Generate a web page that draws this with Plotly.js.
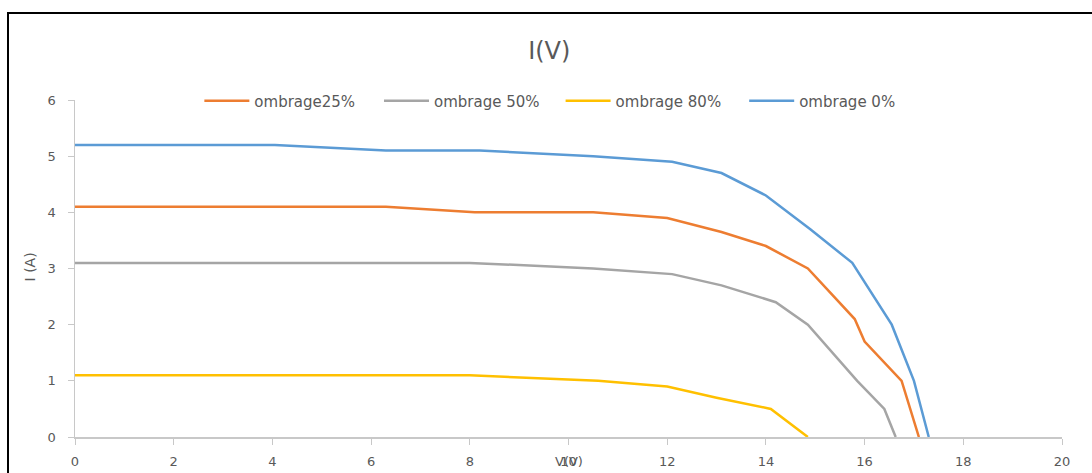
<!DOCTYPE html>
<html>
<head>
<meta charset="utf-8">
<script src="https://cdn.plot.ly/plotly-3.0.1.min.js"></script>
<style>
  html, body { margin: 0; padding: 0; background: #fff; }
  #wrap { position: relative; width: 1092px; height: 473px; overflow: hidden; }
  #chart { width: 1092px; height: 473px; }
  #frame { position: absolute; left: 7px; top: 12px; width: 1200px; height: 500px;
           border: 2px solid #000; pointer-events: none; }
</style>
</head>
<body>
<div id="wrap"><div id="chart"></div><div id="frame"></div></div>
<script>
// Series: voltage (V) and current (A)
const v25 = [0, 6.3, 8.1, 10.5, 12.0, 13.1, 14.0, 14.85, 15.8, 16.0, 16.75, 17.1];
const i25 = [4.1, 4.1, 4.0, 4.0, 3.9, 3.65, 3.4, 3.0, 2.1, 1.7, 1.0, 0];

const v50 = [0, 8.0, 10.5, 12.1, 13.1, 14.2, 14.85, 15.85, 16.4, 16.63];
const i50 = [3.1, 3.1, 3.0, 2.9, 2.7, 2.4, 2.0, 1.0, 0.5, 0];

const v80 = [0, 8.0, 10.6, 12.0, 13.0, 14.1, 14.85];
const i80 = [1.1, 1.1, 1.0, 0.9, 0.7, 0.5, 0];

const v0 = [0, 4.05, 6.3, 8.2, 10.5, 12.1, 13.1, 14.0, 14.9, 15.75, 16.55, 17.0, 17.3];
const i0 = [5.2, 5.2, 5.1, 5.1, 5.0, 4.9, 4.7, 4.3, 3.7, 3.1, 2.0, 1.0, 0];

const seriesNames = ['ombrage25%', 'ombrage 50%', 'ombrage 80%', 'ombrage 0%'];
const seriesColors = ['#ED7D31', '#A5A5A5', '#FFC000', '#5B9BD5'];
const xTicks = [0, 2, 4, 6, 8, 10, 12, 14, 16, 18, 20];
const yTicks = [0, 1, 2, 3, 4, 5, 6];

const xs = [v25, v50, v80, v0];
const ys = [i25, i50, i80, i0];
const legendIds = ['legend', 'legend2', 'legend3', 'legend4'];
const legendX = [0.126, 0.308, 0.492, 0.678];

const traces = xs.map((x, k) => ({
  x: x, y: ys[k], name: seriesNames[k], type: 'scatter', mode: 'lines',
  legend: legendIds[k],
  line: { color: seriesColors[k], width: 2.5 }
}));

const txt = '#595959';
const fam = 'DejaVu Sans, sans-serif';
const layout = {
  width: 1092, height: 473,
  margin: { l: 75, r: 30, t: 100, b: 36 },
  paper_bgcolor: '#fff', plot_bgcolor: '#fff',
  font: { family: fam, color: txt, size: 13 },
  title: { text: 'I(V)', x: 0.503, xanchor: 'center', y: 0.893, yanchor: 'middle',
           font: { size: 24, color: txt, family: fam } },
  showlegend: true,
  xaxis: {
    range: [0, 20], tickvals: xTicks, ticktext: xTicks.map(String),
    showgrid: false, zeroline: false, showline: true, linecolor: '#C8C8C8', linewidth: 1.5,
    ticks: 'outside', ticklen: 6, tickcolor: '#C8C8C8', tickfont: { size: 13, color: txt },
    ticklabelstandoff: 6, fixedrange: true
  },
  yaxis: {
    range: [0, 6], tickvals: yTicks, ticktext: yTicks.map(String),
    showgrid: false, zeroline: false, showline: true, linecolor: '#C8C8C8', linewidth: 1.5,
    ticks: 'outside', ticklen: 6, tickcolor: '#C8C8C8', tickfont: { size: 13, color: txt },
    ticklabelstandoff: 9, fixedrange: true
  },
  annotations: [
    { text: 'V(V)', xref: 'x', yref: 'paper', x: 10, y: -0.074, showarrow: false,
      xanchor: 'center', yanchor: 'middle', font: { size: 13, color: txt } },
    { text: 'I (A)', xref: 'paper', yref: 'y', x: -0.046, y: 3.03, showarrow: false,
      textangle: -90, xanchor: 'center', yanchor: 'middle', font: { size: 14, color: txt } }
  ]
};
legendIds.forEach((id, k) => {
  layout[id] = { orientation: 'h', x: legendX[k], xanchor: 'left', y: 0.997, yanchor: 'middle',
                 itemwidth: 45, font: { size: 15, color: txt, family: fam },
                 bgcolor: 'rgba(0,0,0,0)' };
});

Plotly.newPlot('chart', traces, layout, { staticPlot: true, displayModeBar: false });
</script>
</body>
</html>
